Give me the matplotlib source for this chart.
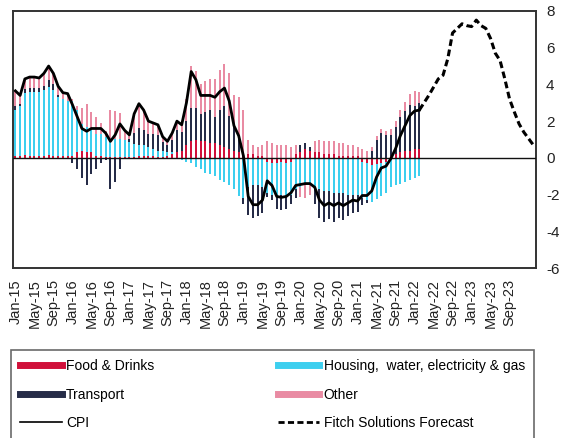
import matplotlib
matplotlib.use("Agg")
import matplotlib.pyplot as plt
from matplotlib.lines import Line2D
import numpy as np

plt.rcParams['font.family'] = ['Liberation Sans', 'DejaVu Sans']
plt.rcParams['axes.unicode_minus'] = False

# Monthly categories Jan-15 .. Feb-24
months = ['Jan', 'Feb', 'Mar', 'Apr', 'May', 'Jun', 'Jul', 'Aug', 'Sep', 'Oct', 'Nov', 'Dec']
categories = [f"{m}-{y:02d}" for y in range(15, 25) for m in months][:110]

# Contributions (pp), Jan-15 .. Feb-22
food = [0.1, 0.1, 0.15, 0.1, 0.1, 0.1, 0.1, 0.15, 0.1, 0.1, 0.1, 0.1,
        0.1, 0.3, 0.35, 0.3, 0.3, 0.1, 0.1, 0.05, 0.05, 0.05, 0.05, 0.05,
        0.05, 0.05, 0.1, 0.1, 0.1, 0.1, 0.05, 0.05, 0.1, 0.2, 0.3, 0.4,
        0.7, 0.9, 1.0, 0.9, 0.9, 0.8, 0.8, 0.7, 0.6, 0.5, 0.4, 0.3,
        0.3, 0.2, 0.2, 0.1, 0.1, -0.2, -0.3, -0.3, -0.2, -0.3, -0.2, 0.2,
        0.3, 0.5, 0.4, 0.3, 0.3, 0.2, 0.2, 0.2, 0.1, 0.1, 0.1, 0.1,
        0.1, -0.2, -0.3, -0.4, -0.35, -0.3, -0.2, 0.1, 0.2, 0.3, 0.4, 0.4, 0.5, 0.5]
housing = [2.5, 2.7, 3.4, 3.5, 3.5, 3.5, 3.6, 3.7, 3.6, 3.2, 3.1, 3.0,
           3.0, 2.3, 1.5, 1.4, 1.2, 1.2, 1.2, 1.1, 1.0, 1.0, 1.0, 0.9,
           0.8, 0.7, 0.6, 0.6, 0.5, 0.4, 0.3, 0.3, 0.2, 0.1, 0.0, -0.1,
           -0.2, -0.3, -0.5, -0.6, -0.8, -0.9, -1.0, -1.2, -1.3, -1.5, -1.7, -2.1,
           -2.2, -1.6, -1.5, -1.5, -1.6, -1.7, -1.7, -1.8, -1.8, -1.8, -1.8, -1.7,
           -1.6, -1.5, -1.5, -1.6, -1.7, -1.8, -1.8, -1.9, -1.9, -1.9, -2.0, -2.0,
           -2.0, -2.0, -2.0, -2.0, -1.9, -1.8, -1.7, -1.6, -1.5, -1.4, -1.3, -1.2, -1.1, -1.0]
transport = [0.2, 0.15, 0.2, 0.2, 0.2, 0.2, 0.2, 0.4, 0.3, 0.1, 0.0, 0.0,
             -0.3, -0.6, -1.1, -1.5, -0.9, -0.6, -0.3, -0.1, -1.7, -1.3, -0.6, 0.0,
             0.2, 0.6, 0.9, 0.8, 0.7, 0.8, 0.9, 0.5, 0.4, 0.7, 1.2, 1.0,
             1.3, 1.8, 1.7, 1.5, 1.6, 1.8, 1.4, 1.9, 2.2, 1.8, 1.3, 0.8,
             -0.3, -1.5, -1.75, -1.65, -1.4, -0.25, -0.3, -0.7, -0.85, -0.7, -0.5, -0.5,
             0.4, 0.3, 0.2, -0.9, -1.6, -1.7, -1.55, -1.6, -1.35, -1.5, -1.15, -1.0,
             -0.95, -0.35, -0.15, 0.4, 1.0, 1.35, 1.25, 1.15, 1.5, 1.9, 2.15, 2.5, 2.35, 2.5]
other = [0.85, 0.45, 0.55, 0.6, 0.6, 0.55, 0.7, 0.75, 0.6, 0.5, 0.35, 0.4,
         0.1, 0.25, 0.85, 1.25, 1.0, 0.9, 0.6, 0.3, 1.55, 1.5, 1.4, 0.55,
         0.2, 1.05, 1.35, 1.1, 0.7, 0.6, 0.55, 0.3, 0.2, 0.35, 0.5, 0.5,
         1.2, 2.3, 2.05, 1.6, 1.7, 1.7, 2.1, 2.2, 2.3, 2.3, 1.75, 2.2,
         2.3, 0.8, 0.5, 0.5, 0.6, 0.9, 0.8, 0.7, 0.7, 0.7, 0.6, 0.5,
         -0.55, -0.7, -0.5, 0.6, 0.7, 0.7, 0.7, 0.7, 0.7, 0.7, 0.6, 0.6,
         0.5, 0.5, 0.4, 0.2, 0.2, 0.2, 0.2, 0.3, 0.3, 0.4, 0.5, 0.6, 0.8, 0.6]
cpi = [3.65, 3.4, 4.3, 4.4, 4.4, 4.35, 4.6, 5.0, 4.6, 3.9, 3.55, 3.5,
       2.9, 2.25, 1.6, 1.45, 1.6, 1.6, 1.6, 1.35, 0.9, 1.25, 1.85, 1.5,
       1.25, 2.4, 2.95, 2.6, 2.0, 1.9, 1.8, 1.15, 0.9, 1.35, 2.0, 1.8,
       3.0, 4.7, 4.25, 3.4, 3.4, 3.4, 3.3, 3.6, 3.8, 3.1, 1.75, 1.2,
       0.1, -2.1, -2.55, -2.55, -2.3, -1.25, -1.5, -2.1, -2.15, -2.1, -1.9, -1.5,
       -1.45, -1.4, -1.4, -1.6, -2.3, -2.6, -2.45, -2.6, -2.45, -2.6, -2.45, -2.3,
       -2.35, -2.05, -2.05, -1.8, -1.05, -0.55, -0.45, -0.05, 0.5, 1.2, 1.75, 2.3, 2.55, 2.6]
# Fitch Solutions forecast, Feb-22 .. Feb-24
forecast = [2.6, 3.0, 3.4, 3.85, 4.3, 4.5, 5.4, 6.8, 7.05, 7.3, 7.2, 7.15, 7.5,
            7.2, 7.05, 6.5, 5.7, 5.3, 4.3, 3.2, 2.5, 1.85, 1.4, 1.05, 0.7]

series = [("Food & Drinks", food, "#D0103A"),
          ("Housing,  water, electricity & gas", housing, "#3DCFEF"),
          ("Transport", transport, "#262C48"),
          ("Other", other, "#E98BA3")]

n_act = len(cpi)
x_act = np.arange(n_act)
x_fc = np.arange(n_act - 1, n_act - 1 + len(forecast))

fig = plt.figure(figsize=(5.65, 4.38), dpi=100)
ax = fig.add_axes([0.023, 0.388, 0.926, 0.587])

pos_base = np.zeros(n_act)
neg_base = np.zeros(n_act)
for name, vals, col in series:
    v = np.array(vals, dtype=float)
    bottoms = np.where(v >= 0, pos_base, neg_base)
    ax.bar(x_act, v, bottom=bottoms, width=0.42, color=col, linewidth=0)
    pos_base = pos_base + np.where(v >= 0, v, 0)
    neg_base = neg_base + np.where(v < 0, v, 0)

ax.axhline(0, color='#111111', lw=1.0, zorder=3)
ax.plot(x_act, cpi, color='black', lw=2.0, zorder=4)
ax.plot(x_fc, forecast, color='black', lw=2.2, ls=(0, (2.2, 1.2)), zorder=4)

ax.set_xlim(-0.5, 109.6)
ax.set_ylim(-6, 8)
ax.set_yticks(range(-6, 9, 2))
ax.yaxis.tick_right()
ax.tick_params(axis='y', length=0, pad=7, labelsize=11, colors='#222222')
tick_pos = list(range(0, 105, 4))
ax.set_xticks(tick_pos)
ax.set_xticklabels([categories[i] for i in tick_pos], rotation=90, fontsize=10.5, color='#222222')
ax.tick_params(axis='x', length=0, pad=8)
for s in ax.spines.values():
    s.set_color('#333333')
    s.set_linewidth(1.4)

handles = [Line2D([], [], color=series[0][2], lw=5),
           Line2D([], [], color=series[2][2], lw=5),
           Line2D([], [], color='black', lw=1.2),
           Line2D([], [], color=series[1][2], lw=5),
           Line2D([], [], color=series[3][2], lw=5),
           Line2D([], [], color='black', lw=2, ls=(0, (2.2, 1.2)))]
labels = [series[0][0], series[2][0], "CPI", series[1][0], series[3][0], "Fitch Solutions Forecast"]
leg = fig.legend(handles, labels, ncol=2, loc='upper left',
                 bbox_to_anchor=(0.02, 0.0, 0.925, 0.201), mode='expand',
                 fontsize=10, frameon=True, fancybox=False, handlelength=3.0,
                 handletextpad=0.3, labelspacing=1.05, borderpad=0.65,
                 columnspacing=2.0, borderaxespad=0)
leg.get_frame().set_edgecolor('#444444')
leg.get_frame().set_linewidth(1.2)

fig.savefig("out.png", dpi=100)
